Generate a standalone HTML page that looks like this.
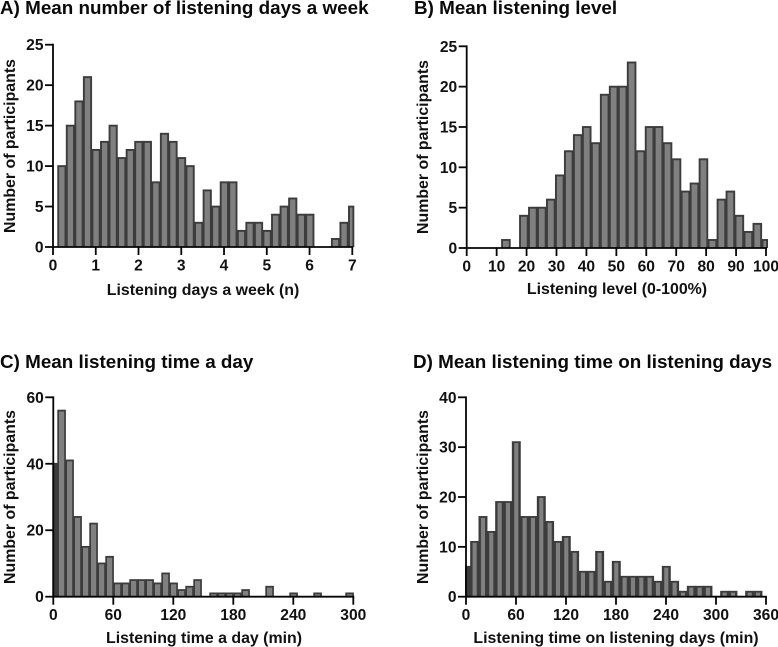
<!DOCTYPE html>
<html lang="en">
<head>
<meta charset="utf-8">
<title>Listening histograms</title>
<style>
html,body{margin:0;padding:0;background:#fff;}
svg{display:block;font-family:"Liberation Sans",Arial,sans-serif;font-weight:bold;fill:#111;filter:blur(0.3px);}
.title{font-size:18.85px;fill:#0a0a0a;}
.tick{font-size:15.6px;}
.axis-title{font-size:15.9px;text-anchor:middle;}
</style>
</head>
<body>
<svg id="figure" xmlns="http://www.w3.org/2000/svg" width="778" height="647" viewBox="0 0 778 647">
  <rect width="778" height="647" fill="#fff"/>
  <g id="panel-a">
    <text class="title" x="0" y="14">A) Mean number of listening days a week</text>
    <text class="axis-title" x="203" y="295">Listening days a week (n)</text>
    <text class="axis-title" transform="translate(15,146) rotate(-90)">Number of participants</text>
  </g>
  <g id="panel-b">
    <text class="title" x="414" y="14">B) Mean listening level</text>
    <text class="axis-title" x="617" y="294">Listening level (0-100%)</text>
    <text class="axis-title" transform="translate(428,147) rotate(-90)">Number of participants</text>
  </g>
  <g id="panel-c">
    <text class="title" x="0" y="368">C) Mean listening time a day</text>
    <text class="axis-title" x="204" y="643">Listening time a day (min)</text>
    <text class="axis-title" transform="translate(15,497) rotate(-90)">Number of participants</text>
  </g>
  <g id="panel-d">
    <text class="title" x="413" y="368">D) Mean listening time on listening days</text>
    <text class="axis-title" x="616" y="643">Listening time on listening days (min)</text>
    <text class="axis-title" transform="translate(428,497) rotate(-90)">Number of participants</text>
  </g>
</svg>
<script>
// Panel A
const daysBins = [0.2,0.4,0.6,0.8,1.0,1.2,1.4,1.6,1.8,2.0,2.2,2.4,2.6,2.8,3.0,3.2,3.4,3.6,3.8,4.0,4.2,4.4,4.6,4.8,5.0,5.2,5.4,5.6,5.8,6.0,6.2,6.4,6.6,6.8,7.0];
const daysCounts = [10,15,18,21,12,13,15,11,12,13,13,8,14,13,11,10,3,7,5,8,8,2,3,3,2,4,5,6,4,4,0,0,1,3,5];
const daysXTicks = [0,1,2,3,4,5,6,7];
const daysYTicks = [0,5,10,15,20,25];
// Panel B
const levelBins = [1,4,7,10,13,16,19,22,25,28,31,34,37,40,43,46,49,52,55,58,61,64,67,70,73,76,79,82,85,88,91,94,97,100];
const levelCounts = [0,0,0,0,1,0,4,5,5,6,9,12,14,15,13,19,20,20,23,12,15,15,13,11,7,8,11,1,6,7,4,2,3,1];
const levelXTicks = [0,10,20,30,40,50,60,70,80,90,100];
const levelYTicks = [0,5,10,15,20,25];
// Panel C
const dayTimeBins = [0,8,16,24,32,40,48,56,64,72,80,88,96,104,112,120,128,136,144,152,160,168,176,184,192,200,208,216,224,232,240,248,256,264,272,280,288,296];
const dayTimeCounts = [40,56,41,24,15,22,10,12,4,4,5,5,5,4,7,4,2,3,5,0,1,1,1,1,2,0,0,3,0,0,1,0,0,1,0,0,0,1];
const dayTimeXTicks = [0,60,120,180,240,300];
const dayTimeYTicks = [0,20,40,60];
// Panel D
const listenTimeBins = [0,10,20,30,40,50,60,70,80,90,100,110,120,130,140,150,160,170,180,190,200,210,220,230,240,250,260,270,280,290,300,310,320,330,340,350];
const listenTimeCounts = [6,11,16,13,19,19,31,16,16,20,15,11,12,9,5,5,9,3,7,4,4,4,4,3,6,3,1,2,2,2,0,1,1,0,1,1];
const listenTimeXTicks = [0,60,120,180,240,300,360];
const listenTimeYTicks = [0,10,20,30,40];

const NS = 'http://www.w3.org/2000/svg';

function make(parent, tag, attrs) {
  const el = document.createElementNS(NS, tag);
  for (const k in attrs) el.setAttribute(k, attrs[k]);
  parent.appendChild(el);
  return el;
}

function drawHistogram(id, bins, counts, xTicks, yTicks, box, binWidth, insetX, insetTop, clipRight) {
  const group = document.getElementById(id);
  const xMax = xTicks[xTicks.length - 1];
  const yMax = yTicks[yTicks.length - 1];
  const xScale = function (v) { return box.x0 + (v / xMax) * (box.x1 - box.x0); };
  const yScale = function (v) { return box.y0 - (v / yMax) * (box.y0 - box.y1); };

  const barLayer = make(group, 'g', {});
  
  
  const w = xScale(binWidth) - xScale(0);
  const minLeft = box.x0 - 1;
  const maxRight = box.x1 + clipRight;

  bins.forEach(function (bin, i) {
    const count = counts[i];
    if (!count) return;
    const rawLeft = xScale(bin) - w / 2;
    const left = Math.max(rawLeft, minLeft);
    const right = Math.min(rawLeft + w + 0.6, maxRight);
    const top = yScale(count);
    const outer = make(barLayer, 'rect', { x: left, y: top - 0.9, width: right - left, height: box.y0 - top + 0.9, fill: '#3c3c3c' });
    
    
    const innerH = box.y0 - top - insetTop;
    if (innerH > 0 && rawLeft >= minLeft) {
      const inner = make(barLayer, 'rect', { x: left + insetX, y: top + insetTop - 0.9, width: right - left - 2 * insetX, height: innerH + 0.9, fill: '#808080' });
      
      
    }
  });

  const axisStyle = { stroke: '#050505', 'stroke-width': 1.8, fill: 'none' };
  const xAxis = make(group, 'line', Object.assign({ x1: box.x0 - 0.9, x2: box.x1 + 0.9, y1: box.y0, y2: box.y0 }, axisStyle));
  
  
  const yAxis = make(group, 'line', Object.assign({ x1: box.x0, x2: box.x0, y1: box.y1 - 0.9, y2: box.y0 }, axisStyle));
  
  

  xTicks.forEach(function (t) {
    const x = xScale(t);
    const mark = make(group, 'line', Object.assign({ x1: x, x2: x, y1: box.y0, y2: box.y0 + 8 }, axisStyle));
    
    
    const label = make(group, 'text', { class: 'tick', x: x, y: box.y0 + 23.5, 'text-anchor': 'middle' });
    
    
    label.textContent = t;
  });

  yTicks.forEach(function (t) {
    const y = yScale(t);
    const mark = make(group, 'line', Object.assign({ x1: box.x0 - 8, x2: box.x0, y1: y, y2: y }, axisStyle));
    
    
    const label = make(group, 'text', { class: 'tick', x: box.x0 - 9.5, y: y + 5.5, 'text-anchor': 'end' });
    
    
    label.textContent = t;
  });
}

drawHistogram('panel-a', daysBins, daysCounts, daysXTicks, daysYTicks, { x0: 53, x1: 352.3, y0: 247, y1: 44.7 }, 0.2, 1.9, 1.9, 2);
drawHistogram('panel-b', levelBins, levelCounts, levelXTicks, levelYTicks, { x0: 466.7, x1: 766, y0: 248, y1: 46.3 }, 3, 1.9, 1.9, 2);
drawHistogram('panel-c', dayTimeBins, dayTimeCounts, dayTimeXTicks, dayTimeYTicks, { x0: 53.3, x1: 353.3, y0: 596.7, y1: 397.3 }, 8, 1.7, 1.8, 1);
drawHistogram('panel-d', listenTimeBins, listenTimeCounts, listenTimeXTicks, listenTimeYTicks, { x0: 466, x1: 766, y0: 596.7, y1: 397.3 }, 10, 2.4, 1.8, 1);
</script>
</body>
</html>
